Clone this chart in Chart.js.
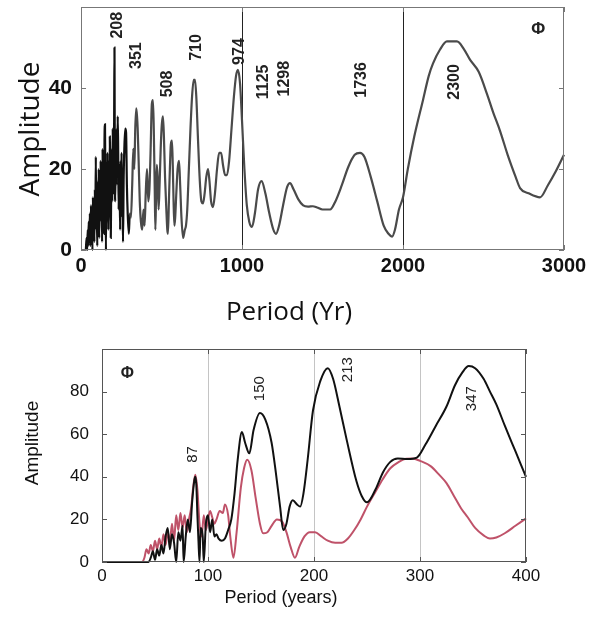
<!DOCTYPE html>
<html>
<head>
<meta charset="utf-8">
<script src="https://cdn.jsdelivr.net/npm/chart.js@4.4.1/dist/chart.umd.min.js"></script>
<style>
  html, body { margin: 0; padding: 0; background: #fff; }
  body { width: 597px; height: 621px; position: relative; overflow: hidden; }
  #top { position: absolute; left: 0; top: 0; }
  #bottom { position: absolute; left: 0; top: 335px; }
</style>
</head>
<body>
<canvas id="top" width="597" height="330"></canvas>
<canvas id="bottom" width="597" height="286"></canvas>
<script>
// upper panel: amplitude spectrum, period in years
const topPeriod = [
  30, 35, 38, 42, 45, 48, 52, 55, 58, 62, 65, 68, 71, 74, 77, 80, 83, 86, 89, 92,
  95, 98, 101, 104, 107, 110, 113, 116, 119, 122, 125, 128, 131, 134, 137, 140, 143, 146, 149, 152,
  155, 158, 161, 164, 167, 170, 173, 176, 179, 182, 185, 188, 191, 194, 197, 200, 203, 206, 208, 210,
  213, 216, 219, 222, 225, 228, 231, 234, 237, 240, 243, 246, 249, 252, 255, 258, 261, 265, 270, 275,
  280, 285, 290, 297, 303, 310, 318, 325, 331, 337, 343, 348, 352, 358, 365, 372, 380, 388, 395, 402,
  410, 418, 425, 432, 440, 447, 452, 458, 462, 466, 471, 476, 482, 488, 495, 502, 509, 515, 522, 530,
  536, 540, 546, 552, 558, 565, 570, 575, 580, 585, 592, 600, 609, 616, 624, 634, 645, 652, 660, 670,
  680, 690, 700, 708, 716, 726, 738, 748, 758, 768, 778, 789, 798, 808, 820, 832, 845, 858, 870, 882,
  895, 907, 920, 935, 950, 963, 975, 988, 1000, 1015, 1030, 1045, 1062, 1080, 1100, 1122, 1145, 1170, 1195, 1211,
  1230, 1255, 1280, 1298, 1320, 1350, 1380, 1410, 1440, 1466, 1500, 1547, 1580, 1620, 1660, 1700, 1733, 1760, 1800, 1840,
  1880, 1910, 1932, 1950, 1975, 2000, 2030, 2070, 2124, 2160, 2186, 2230, 2273, 2335, 2380, 2416, 2470, 2522, 2560, 2602,
  2650, 2700, 2727, 2780, 2851, 2900, 2950, 3000
];
const topAmp = [
  0, 3, 0, 5, 1, 7, 2, 9, 1, 11, 3, 8, 0, 13, 4, 10, 2, 15, 5, 23,
  6, 12, 1, 17, 8, 20, 3, 14, 7, 22, 9, 16, 2, 25, 10, 19, 4, 27, 31, 12,
  0, 20, 9, 24, 14, 5, 22, 10, 28, 15, 3, 18, 25, 12, 30, 18, 14, 33, 50, 20,
  12, 28, 16, 30, 20, 33, 24, 10, 21, 17, 5, 22, 15, 24, 8, 12, 2, 18, 26, 30,
  29, 16, 9, 4, 9, 8, 16, 25, 20, 30, 35, 33, 30, 22, 12, 7, 5, 10, 6, 14,
  20, 12, 15, 24, 36, 37, 30, 15, 5, 13, 21, 18, 10, 16, 25, 31, 33, 28, 18, 10,
  5, 4, 12, 20, 26, 27, 21, 12, 6, 8, 14, 20, 22, 16, 8, 3, 5, 6, 10, 20,
  30, 38, 42, 42, 38, 28, 17, 12, 11.5, 14, 18, 20, 17, 12, 10.6, 14, 20, 24, 24, 21,
  18.5, 18.5, 22, 30, 38, 43, 44.5, 41, 32, 20, 11, 7, 5.7, 9, 15, 17, 14, 9, 5, 4,
  6, 11, 15.5, 16.5, 15, 12.5, 11, 10.7, 10.8, 10.5, 10, 10, 12, 16, 20.5, 23.5, 24, 23, 18, 12,
  6, 4, 3.3, 5, 10, 13, 20, 28, 37, 43, 46, 49.5, 51.5, 51.5, 49.5, 47, 44, 38.5, 34, 29.5,
  23.5, 18, 15.3, 14, 13, 16, 19.5, 23.5
];
const topXTicks = [0, 1000, 2000, 3000];
const topYTicks = [0, 20, 40];
const topMarked = [1000, 2000];
// peak labels: text, period, amplitude of label centre
const topPeakText = ['208', '351', '508', '710', '974', '1125', '1298', '1736', '2300'];
const topPeakX = [228, 348, 540, 720, 985, 1137, 1265, 1745, 2323];
const topPeakY = [55.5, 48, 41, 50, 49, 41.5, 42.3, 42, 41.5];

// lower panel: two spectra, period in years
const blackPeriod = [
  0, 40, 44, 46, 48, 50, 52, 54, 56, 58, 60, 62, 64, 66, 68, 70, 72, 74, 76, 77,
  79, 81, 83, 85, 87, 88, 89, 90, 91, 92, 93, 95, 96, 98, 100, 102, 104, 106, 108, 110,
  113, 116, 119, 122, 125, 128, 132, 135, 139, 143, 149, 154, 160, 164, 168, 171, 174, 177, 180, 184,
  187, 190, 194, 199, 206, 213, 218, 224, 231, 240, 245, 250, 258, 265, 272, 279, 288, 297, 305, 315,
  325, 333, 340, 346, 352, 360, 366, 372, 380, 390, 400
];
const blackAmp = [
  0, 0, 0, 2, 5, 1, 6, 3, 8, 4, 12, 16, 6, 13, 9, 0, 14, 10, 17, 0,
  12, 20, 14, 28, 38, 40, 36, 22, 10, 0, 16, 12, 0, 18, 22, 14, 20, 12, 13, 11,
  10, 11, 15, 20, 32, 48, 61, 56, 51, 62, 70, 67, 56, 42, 26, 15, 18, 26, 29, 27,
  26, 32, 48, 71, 85, 91, 86, 73, 57, 38, 31, 28, 34, 42, 47, 48.6, 48.3, 49, 55, 64,
  73, 83, 89, 92, 91, 86, 80, 74, 64, 52, 40
];
const redPeriod = [
  0, 38, 40, 42, 44, 46, 48, 50, 52, 54, 56, 58, 60, 62, 64, 66, 68, 70, 72, 74,
  76, 78, 80, 82, 84, 86, 88, 90, 92, 94, 96, 98, 100, 102, 104, 106, 108, 111, 114, 116,
  119, 121, 124, 127, 131, 134, 137, 141, 145, 149, 152, 156, 160, 165, 170, 174, 178, 182, 186, 191,
  196, 201, 207, 213, 220, 226, 232, 238, 244, 250, 258, 265, 272, 280, 287, 293, 300, 310, 318, 325,
  332, 339, 345, 352, 360, 366, 372, 380, 390, 400
];
const redAmp = [
  0, 0, 2, 6, 4, 8, 5, 10, 6, 11, 7, 13, 8, 14, 9, 18, 10, 22, 15, 23,
  16, 22, 14, 20, 25, 35, 41, 34, 18, 12, 22, 15, 20, 24, 21, 18, 20, 24, 23, 27,
  22, 12, 2, 14, 35, 44, 48, 43, 30, 18, 13.5, 14, 17, 20, 19, 14, 7, 2, 7, 12,
  14, 14, 12, 10, 9, 9, 11, 15, 20, 26, 33, 39, 44, 47, 48.5, 48.6, 47.5, 45, 41, 37,
  31, 25, 21, 16, 12.5, 11, 11.5, 13.5, 17, 20.5
];
const bottomXTicks = [0, 100, 200, 300, 400];
const bottomYTicks = [0, 20, 40, 60, 80];
const bottomMarked = [100, 200, 300];
const bottomPeakText = ['87', '150', '213', '347'];
const bottomPeakX = [86, 149, 232, 349];
const bottomPeakY = [50.5, 81.4, 90.3, 76.7];

const toPoints = (xs, ys) => xs.map((x, i) => ({ x, y: ys[i] }));

function decor(opts) {
  return {
    id: 'decor',
    afterDatasetsDraw(chart) {
      const { ctx, chartArea: a } = chart;
      const x = chart.scales.x, y = chart.scales.y;
      ctx.save();
      ctx.strokeStyle = opts.frame;
      ctx.lineWidth = 1;
      ctx.strokeRect(a.left + 0.5, a.top + 0.5, a.right - a.left - 1, a.bottom - a.top - 1);
      // inward tick marks
      ctx.beginPath();
      opts.yTicks.forEach(v => {
        const py = Math.round(y.getPixelForValue(v)) + 0.5;
        ctx.moveTo(a.left, py); ctx.lineTo(a.left + 5, py);
        ctx.moveTo(a.right, py); ctx.lineTo(a.right - 5, py);
      });
      opts.xTicks.forEach(v => {
        const px = Math.round(x.getPixelForValue(v)) + 0.5;
        ctx.moveTo(px, a.bottom); ctx.lineTo(px, a.bottom - 5);
        ctx.moveTo(px, a.top); ctx.lineTo(px, a.top + 5);
      });
      ctx.stroke();

      ctx.fillStyle = '#222';
      ctx.textAlign = 'center';
      ctx.textBaseline = 'middle';
      ctx.font = opts.peakFont;
      opts.peakText.forEach((t, i) => {
        ctx.save();
        ctx.translate(x.getPixelForValue(opts.peakX[i]), y.getPixelForValue(opts.peakY[i]));
        ctx.rotate(-Math.PI / 2);
        ctx.fillText(t, 0, 0);
        ctx.restore();
      });
      ctx.font = opts.phiFont;
      ctx.fillText('\u03A6', x.getPixelForValue(opts.phi[0]), y.getPixelForValue(opts.phi[1]));

      ctx.fillStyle = '#111';
      ctx.font = opts.titleFontX;
      ctx.fillText(opts.xTitle, opts.xTitlePos[0], opts.xTitlePos[1]);
      ctx.save();
      ctx.font = opts.titleFontY;
      ctx.translate(opts.yTitlePos[0], opts.yTitlePos[1]);
      ctx.rotate(-Math.PI / 2);
      ctx.fillText(opts.yTitle, 0, 0);
      ctx.restore();
      ctx.restore();
    }
  };
}

function baseOptions(o) {
  return {
    responsive: false,
    animation: false,
    events: [],
    layout: { padding: o.padding },
    plugins: { legend: { display: false }, tooltip: { enabled: false } },
    elements: { point: { radius: 0 } },
    scales: {
      x: {
        type: 'linear', min: o.xMin, max: o.xMax,
        afterFit: s => { s.height = o.xHeight; s.paddingLeft = 0; s.paddingRight = 0; },
        afterBuildTicks: s => { s.ticks = o.xTicks.map(v => ({ value: v })); },
        border: { display: false },
        grid: {
          drawTicks: false,
          lineWidth: 1,
          color: c => (c.tick && o.marked.includes(c.tick.value)) ? o.markColor : 'rgba(0,0,0,0)'
        },
        ticks: { padding: o.xPad, color: '#111', font: o.tickFontX, maxRotation: 0, callback: v => String(v) }
      },
      y: {
        type: 'linear', min: 0, max: o.yMax,
        afterFit: s => { s.width = o.yWidth; s.paddingTop = 0; s.paddingBottom = 0; },
        afterBuildTicks: s => { s.ticks = o.yTicks.map(v => ({ value: v })); },
        border: { display: false },
        grid: { display: false, drawTicks: false },
        ticks: { padding: o.yPad, color: '#111', font: o.tickFontY, callback: v => String(v) }
      }
    }
  };
}

new Chart(document.getElementById('top'), {
  type: 'scatter',
  data: {
    datasets: [{
      data: toPoints(topPeriod, topAmp),
      showLine: true,
      borderWidth: 2.2,
      borderColor: '#4a4a4a',
      cubicInterpolationMode: 'monotone',
      clip: { left: 2, top: 0, right: 2, bottom: 3 },
      segment: { borderColor: c => c.p0.parsed.x < 300 ? '#111' : '#4a4a4a' }
    }]
  },
  options: baseOptions({
    padding: { top: 7, right: 33, left: 0, bottom: 0 },
    xMin: 0, xMax: 3000, yMax: 60,
    xHeight: 80, yWidth: 81, xPad: 4, yPad: 9,
    xTicks: topXTicks, yTicks: topYTicks,
    marked: topMarked, markColor: '#222',
    tickFontX: { family: 'Liberation Sans', size: 20, weight: 'bold' },
    tickFontY: { family: 'Liberation Sans', size: 21, weight: 'bold' }
  }),
  plugins: [decor({
    frame: '#777',
    xTicks: topXTicks, yTicks: topYTicks,
    peakText: topPeakText, peakX: topPeakX, peakY: topPeakY,
    peakFont: 'bold 16px "Liberation Sans"',
    phi: [2840, 54.5], phiFont: 'bold 17px "Liberation Sans"',
    xTitle: 'Period (Yr)', xTitlePos: [289, 313], titleFontX: '26px "Open Sans"',
    yTitle: 'Amplitude', yTitlePos: [31, 129], titleFontY: '28px "Open Sans"'
  })]
});

new Chart(document.getElementById('bottom'), {
  type: 'scatter',
  data: {
    datasets: [{
      data: toPoints(blackPeriod, blackAmp),
      showLine: true,
      borderWidth: 2,
      borderColor: '#111',
      cubicInterpolationMode: 'monotone',
      clip: { left: 2, top: 0, right: 2, bottom: 3 }
    }, {
      data: toPoints(redPeriod, redAmp),
      showLine: true,
      borderWidth: 2,
      borderColor: '#bf5269',
      cubicInterpolationMode: 'monotone',
      clip: { left: 2, top: 0, right: 2, bottom: 3 }
    }]
  },
  options: baseOptions({
    padding: { top: 14, right: 71, left: 0, bottom: 0 },
    xMin: 0, xMax: 400, yMax: 100,
    xHeight: 59, yWidth: 102, xPad: 4, yPad: 13,
    xTicks: bottomXTicks, yTicks: bottomYTicks,
    marked: bottomMarked, markColor: '#c4c4c4',
    tickFontX: { family: 'Liberation Sans', size: 17 },
    tickFontY: { family: 'Liberation Sans', size: 17 }
  }),
  plugins: [decor({
    frame: '#555',
    xTicks: bottomXTicks, yTicks: bottomYTicks,
    peakText: bottomPeakText, peakX: bottomPeakX, peakY: bottomPeakY,
    peakFont: '15px "Liberation Sans"',
    phi: [24, 88.4], phiFont: 'bold 16px "Liberation Sans"',
    xTitle: 'Period (years)', xTitlePos: [281, 263], titleFontX: '18px "Liberation Sans"',
    yTitle: 'Amplitude', yTitlePos: [33, 108], titleFontY: '19px "Liberation Sans"'
  })]
});
</script>
</body>
</html>
